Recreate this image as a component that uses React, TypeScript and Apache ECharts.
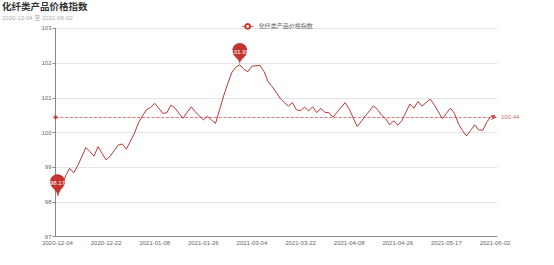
import React, { useEffect, useRef } from "react";
import * as echarts from "echarts";

const titleText = "化纤类产品价格指数";
const subText = "2020-12-04 至 2021-06-02";
const seriesName = "化纤类产品价格指数";

const dates = [
  "2020-12-04", "2020-12-07", "2020-12-08", "2020-12-09", "2020-12-10", "2020-12-11", "2020-12-14", "2020-12-15", "2020-12-16", "2020-12-17", "2020-12-18", "2020-12-21",
  "2020-12-22", "2020-12-23", "2020-12-24", "2020-12-25", "2020-12-28", "2020-12-29", "2020-12-30", "2020-12-31", "2021-01-04", "2021-01-05", "2021-01-06", "2021-01-07",
  "2021-01-08", "2021-01-11", "2021-01-12", "2021-01-13", "2021-01-14", "2021-01-15", "2021-01-18", "2021-01-19", "2021-01-20", "2021-01-21", "2021-01-22", "2021-01-25",
  "2021-01-26", "2021-01-28", "2021-02-01", "2021-02-03", "2021-02-05", "2021-02-08", "2021-02-10", "2021-02-19", "2021-02-22", "2021-02-24", "2021-02-26", "2021-03-02",
  "2021-03-04", "2021-03-05", "2021-03-08", "2021-03-09", "2021-03-10", "2021-03-11", "2021-03-12", "2021-03-15", "2021-03-16", "2021-03-17", "2021-03-18", "2021-03-19",
  "2021-03-22", "2021-03-23", "2021-03-24", "2021-03-25", "2021-03-26", "2021-03-29", "2021-03-30", "2021-03-31", "2021-04-01", "2021-04-02", "2021-04-06", "2021-04-07",
  "2021-04-08", "2021-04-09", "2021-04-12", "2021-04-13", "2021-04-14", "2021-04-15", "2021-04-16", "2021-04-19", "2021-04-20", "2021-04-21", "2021-04-22", "2021-04-23",
  "2021-04-26", "2021-04-27", "2021-04-28", "2021-04-29", "2021-04-30", "2021-05-06", "2021-05-07", "2021-05-10", "2021-05-11", "2021-05-12", "2021-05-13", "2021-05-14",
  "2021-05-17", "2021-05-18", "2021-05-19", "2021-05-20", "2021-05-21", "2021-05-24", "2021-05-25", "2021-05-26", "2021-05-27", "2021-05-28", "2021-05-31", "2021-06-01",
  "2021-06-02",
];

const values = [
  98.17, 98.45, 98.75, 98.97, 98.84, 99.05, 99.3, 99.57, 99.45, 99.32, 99.59, 99.4,
  99.21, 99.32, 99.48, 99.64, 99.67, 99.52, 99.75, 99.98, 100.28, 100.48, 100.66, 100.72,
  100.84, 100.7, 100.55, 100.57, 100.79, 100.7, 100.55, 100.41, 100.58, 100.74, 100.6, 100.48,
  100.36, 100.47, 100.36, 100.26, 100.65, 101.05, 101.4, 101.72, 101.88, 101.95, 101.82, 101.75,
  101.91, 101.92, 101.93, 101.75, 101.46, 101.32, 101.15, 100.98, 100.86, 100.76, 100.86, 100.65,
  100.63, 100.73, 100.62, 100.74, 100.57, 100.7, 100.58, 100.57, 100.44, 100.58, 100.72, 100.86,
  100.68, 100.42, 100.17, 100.32, 100.48, 100.62, 100.77, 100.66, 100.5, 100.4, 100.22, 100.34,
  100.21, 100.34, 100.58, 100.82, 100.7, 100.89, 100.76, 100.86, 100.96, 100.8, 100.6, 100.4,
  100.55, 100.7, 100.55, 100.25, 100.05, 99.9, 100.06, 100.22, 100.07, 100.07, 100.3, 100.46,
  100.5,
];

const averageValue = 100.44;
const yMin = 97;
const yMax = 103;
const yInterval = 1;

const FONT = "'Liberation Sans', 'Noto Sans CJK SC', sans-serif";
const RED = "#c23531";

export default function App() {
  const ref = useRef<HTMLDivElement>(null);
  useEffect(() => {
    document.body.style.margin = "0";
    if (!ref.current) return;
    const chart = echarts.init(ref.current, undefined, { renderer: "svg" });
    chart.setOption({
      animation: false,
      color: [RED],
      textStyle: { fontFamily: FONT },
      title: {
        text: titleText,
        subtext: subText,
        left: 0,
        top: 0,
        padding: [2, 2],
        itemGap: 3,
        textStyle: { fontSize: 9.5, fontWeight: "bold", color: "#333", fontFamily: FONT },
        subtextStyle: { fontSize: 6, color: "#aaa", fontFamily: FONT },
      },
      legend: {
        data: [seriesName],
        top: 18,
        left: "center",
        itemWidth: 12,
        itemHeight: 6,
        itemGap: 5,
        lineStyle: { width: 0.8 },
        itemStyle: { borderWidth: 0.8 },
        textStyle: { fontSize: 6, color: "#666", fontFamily: FONT },
      },
      grid: { left: 55.5, right: 57, top: 28.3, bottom: 28.3, containLabel: false },
      xAxis: {
        type: "category",
        data: dates,
        boundaryGap: true,
        axisLine: { lineStyle: { color: "#888", width: 1 } },
        axisTick: { interval: 11, length: 3, lineStyle: { color: "#888" } },
        axisLabel: { interval: 11, fontSize: 6, color: "#666", margin: 3, fontFamily: FONT },
      },
      yAxis: {
        type: "value",
        min: yMin,
        max: yMax,
        interval: yInterval,
        axisLine: { show: true, lineStyle: { color: "#888", width: 1 } },
        axisTick: { show: true, length: 3, lineStyle: { color: "#888" } },
        axisLabel: { fontSize: 6, color: "#666", margin: 4, fontFamily: FONT },
        splitLine: { lineStyle: { color: "#e3e3e3", width: 1 } },
      },
      series: [
        {
          name: seriesName,
          type: "line",
          data: values,
          symbol: "emptyCircle",
          symbolSize: 4,
          showSymbol: false,
          lineStyle: { width: 1, color: RED },
          itemStyle: { color: RED },
          markPoint: {
            symbol: "pin",
            symbolSize: 25,
            label: { fontSize: 6, color: "#fff", fontFamily: FONT },
            itemStyle: { color: RED },
            data: [
              { type: "max", name: "最大值" },
              { type: "min", name: "最小值" },
            ],
          },
          markLine: {
            symbol: ["circle", "arrow"],
            symbolSize: [4, 6],
            silent: true,
            lineStyle: { type: "dashed", color: RED, width: 0.8, opacity: 0.8 },
            label: { fontSize: 6, color: RED, distance: 4, fontFamily: FONT },
            data: [{ yAxis: averageValue, name: "平均值" }],
          },
        },
      ],
    });
    return () => chart.dispose();
  }, []);
  return <div ref={ref} style={{ width: 554, height: 265 }} />;
}
